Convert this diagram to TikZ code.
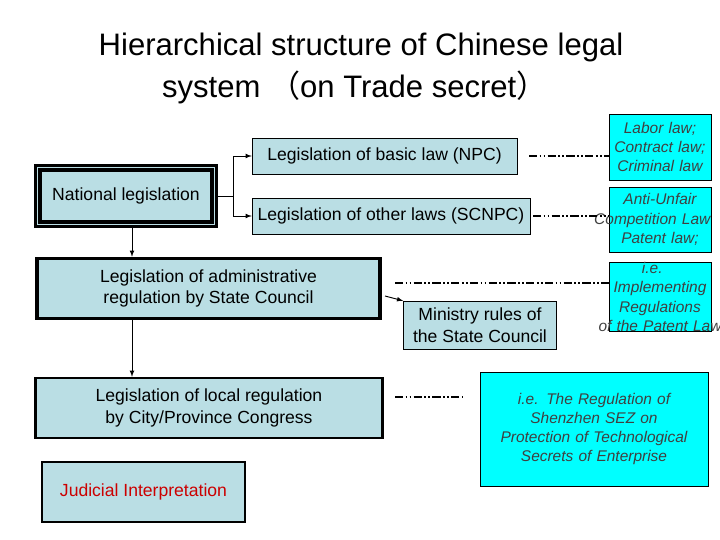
\documentclass[tikz,border=0pt]{standalone}
\usepackage{fontspec}
\setmainfont{Liberation Sans}
\newfontfamily\cjk{Noto Sans CJK SC}
\definecolor{boxblue}{RGB}{186,222,228}
\definecolor{boxcyan}{RGB}{0,255,255}
\begin{document}
\begin{tikzpicture}[x=0.03cm, y=-0.03cm,
    lawbox/.style={draw, fill=boxblue, inner sep=0pt, align=center, font=\fontsize{15}{18.5}\selectfont},
    egbox/.style={draw, fill=boxcyan, inner sep=0pt, align=center, text=black!75, font=\fontsize{13.2}{16.5}\itshape},
    link/.style={line width=2pt, dash pattern=on 7pt off 2pt on 1.5pt off 2pt on 1.5pt off 2pt},
    arr/.style={thick, -latex}]
    \useasboundingbox (0,0) rectangle (720,540);

    % Titel
    \node[font=\fontsize{26.5}{30}\selectfont] (title1) at (361,47) {Hierarchical structure of Chinese legal};
    \node[font=\fontsize{26.5}{30}\selectfont, anchor=west] (title2) at (158,87) {system {\cjk （}on Trade secret{\cjk ）}};

    % Gesetzgebung
    \node[lawbox, line width=3pt, double=boxblue, double distance=1pt, minimum width=5.3cm, minimum height=1.7cm] (national) at (126,196) {National legislation};
    \node[lawbox, minimum width=7.95cm, minimum height=1.08cm] (basic) at (384.5,156) {Legislation of basic law (NPC)};
    \node[lawbox, minimum width=8.34cm, minimum height=1.08cm] (other) at (391,216) {Legislation of other laws (SCNPC)};
    \node[lawbox, line width=3pt, minimum width=10.3cm, minimum height=1.8cm] (admin) at (208.5,288.5) {Legislation of administrative\\regulation by State Council};
    \node[lawbox, minimum width=4.6cm, minimum height=1.44cm] (ministry) at (480,325) {Ministry rules of\\the State Council};
    \node[lawbox, line width=2pt, minimum width=10.4cm, minimum height=1.8cm] (local) at (209,408) {Legislation of local regulation\\by City/Province Congress};
    \node[lawbox, line width=2pt, text=red!80!black, minimum width=6.1cm, minimum height=1.8cm] (judicial) at (143.5,492) {Judicial Interpretation};

    % Beispiele
    \node[egbox, text width=3.06cm, minimum height=1.98cm] (labor) at (660,147) {Labor law;\\Contract law;\\Criminal law};
    \node[egbox, text width=3.06cm, minimum height=1.95cm] (anti) at (660,219.5) {Anti-Unfair\\\hspace*{-1em}Competition Law\hspace*{-1em}\\Patent law;};
    \node[egbox, text width=3.06cm, minimum height=1.98cm] (implement) at (660,297) {\hspace*{-1em}i.e. Implementing\hspace*{-1em}\\Regulations\\\hspace*{-1em}of the Patent Law\hspace*{-1em}};
    \node[egbox, text width=6.84cm, minimum height=3.42cm] (shenzhen) at (594,429) {i.e. The Regulation of\\Shenzhen SEZ on\\Protection of Technological\\Secrets of Enterprise};

    % Pfeile
    \coordinate (fork) at (233,196);
    \draw[thick] (national.east |- fork) -- (fork);
    \draw[arr] (fork) |- (basic.west);
    \draw[arr] (fork) |- (other.west);
    \draw[arr] (national.south -| 132,0) -- (admin.north -| 132,0);
    \draw[arr] (admin.south -| 132,0) -- (local.north -| 132,0);
    \draw[arr] (385,296) -- (ministry.north west);

    % Verbindungen
    \draw[link] (529,156) -- (labor.west |- 0,156);
    \draw[link] (533,216) -- (anti.west |- 0,216);
    \draw[link] (395,283) -- (implement.west |- 0,283);
    \draw[link] (395,397) -- (463,397);
\end{tikzpicture}
\end{document}
